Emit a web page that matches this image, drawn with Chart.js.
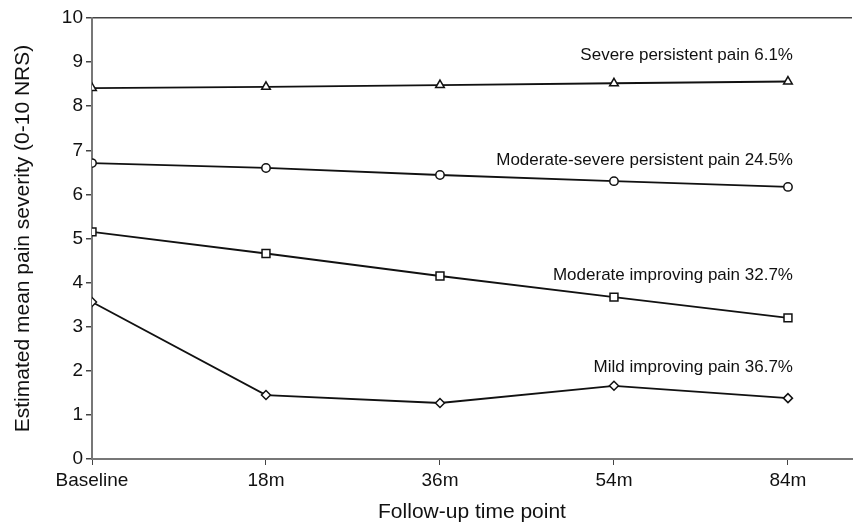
<!DOCTYPE html>
<html>
<head>
<meta charset="utf-8">
<script src="https://cdn.jsdelivr.net/npm/chart.js@4/dist/chart.umd.min.js"></script>
<style>
  html, body { margin: 0; padding: 0; background: #fff; }
  #wrap { width: 866px; height: 529px; position: relative; }
</style>
</head>
<body>
<div id="wrap"><canvas id="chart"></canvas></div>
<script>
var timePoints = ['Baseline', '18m', '36m', '54m', '84m'];

var severe = [8.41, 8.44, 8.48, 8.52, 8.56];
var moderateSevere = [6.71, 6.60, 6.44, 6.30, 6.17];
var moderateImproving = [5.15, 4.66, 4.15, 3.67, 3.20];
var mildImproving = [3.56, 1.45, 1.27, 1.66, 1.38];

var groupLabels = ['Severe persistent pain 6.1%', 'Moderate-severe persistent pain 24.5%',
  'Moderate improving pain 32.7%', 'Mild improving pain 36.7%'];
// where each label sits, in y units
var labelY = [9.16, 6.78, 4.17, 2.08];

var yTicks = [0, 1, 2, 3, 4, 5, 6, 7, 8, 9, 10];

var font = 'Liberation Sans, Arial, sans-serif';

function toPoints(arr) {
  return arr.map(function (v, i) { return { x: i, y: v }; });
}

function series(arr, style, radius) {
  return {
    data: toPoints(arr),
    borderColor: '#111',
    borderWidth: 1.8,
    pointStyle: style,
    pointRadius: radius,
    pointBackgroundColor: '#fff',
    pointBorderColor: '#111',
    pointBorderWidth: 1.5,
    tension: 0
  };
}

// draws the group names next to the last point
var groupText = {
  id: 'groupText',
  afterDatasetsDraw: function (chart) {
    var ctx = chart.ctx;
    var xs = chart.scales.x, ys = chart.scales.y;
    ctx.save();
    ctx.font = '17px ' + font;
    ctx.fillStyle = '#111';
    ctx.textAlign = 'right';
    ctx.textBaseline = 'middle';
    groupLabels.forEach(function (txt, i) {
      ctx.fillText(txt, xs.getPixelForValue(4) + 5, ys.getPixelForValue(labelY[i]));
    });
    ctx.restore();
  }
};

new Chart(document.getElementById('chart'), {
  type: 'line',
  plugins: [groupText],
  data: {
    datasets: [
      series(severe, 'triangle', 5),
      series(moderateSevere, 'circle', 4.2),
      series(moderateImproving, 'rect', 5.6),
      series(mildImproving, 'rectRot', 4.5)
    ]
  },
  options: {
    responsive: true,
    maintainAspectRatio: false,
    animation: false,
    layout: { padding: { top: 18, right: 14, left: 0, bottom: 0 } },
    plugins: {
      legend: { display: false },
      tooltip: { enabled: false }
    },
    scales: {
      x: {
        type: 'linear',
        min: 0,
        max: 4.368,
        afterBuildTicks: function (scale) {
          scale.ticks = timePoints.map(function (t, i) { return { value: i }; });
        },
        afterFit: function (scale) { scale.height = 70; },
        ticks: {
          callback: function (v) { return timePoints[v]; },
          color: '#111',
          font: { family: font, size: 19 },
          padding: 4,
          maxRotation: 0,
          autoSkip: false
        },
        grid: {
          color: 'transparent',
          tickColor: '#444',
          tickLength: 6,
          drawTicks: true
        },
        border: { display: true, color: '#777', width: 2 },
        title: {
          display: true,
          text: 'Follow-up time point',
          color: '#111',
          font: { family: font, size: 21 },
          padding: { top: 0, bottom: 4 }
        }
      },
      y: {
        min: 0,
        max: 10,
        afterBuildTicks: function (scale) {
          scale.ticks = yTicks.map(function (v) { return { value: v }; });
        },
        afterFit: function (scale) { scale.width = 92; },
        ticks: {
          color: '#111',
          font: { family: font, size: 19 },
          padding: 3
        },
        grid: {
          color: function (c) { return c.tick && c.tick.value === 10 ? '#444' : 'transparent'; },
          lineWidth: 1.5,
          tickColor: '#444',
          tickLength: 6
        },
        border: { display: true, color: '#777', width: 2 },
        title: {
          display: true,
          text: 'Estimated mean pain severity (0-10 NRS)',
          color: '#111',
          font: { family: font, size: 21 },
          padding: { top: 11, bottom: 0 }
        }
      }
    }
  }
});
</script>
</body>
</html>
